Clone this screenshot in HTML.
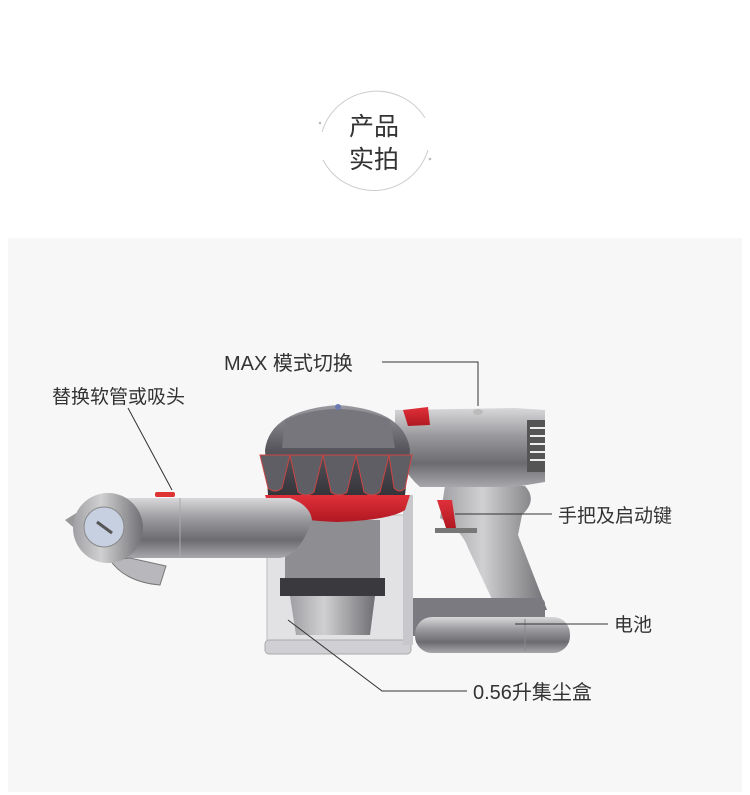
<!DOCTYPE html>
<html><head><meta charset="utf-8"><style>
html,body{margin:0;padding:0;background:#fff;width:750px;height:795px;overflow:hidden}
svg{display:block}
text{font-family:"Liberation Sans","Noto Sans CJK SC",sans-serif;fill:#333}
</style></head><body>
<svg width="750" height="795" viewBox="0 0 750 795">
<defs>
<linearGradient id="met" x1="0" y1="0" x2="0" y2="1">
<stop offset="0" stop-color="#d8d8da"/><stop offset="0.35" stop-color="#9a9a9e"/><stop offset="0.7" stop-color="#6c6c70"/><stop offset="1" stop-color="#a8a8ac"/></linearGradient>
<linearGradient id="metH" x1="0" y1="0" x2="1" y2="0">
<stop offset="0" stop-color="#a0a0a4"/><stop offset="0.4" stop-color="#d0d0d2"/><stop offset="1" stop-color="#707074"/></linearGradient>
<linearGradient id="dark" x1="0" y1="0" x2="0" y2="1">
<stop offset="0" stop-color="#9a9aa0"/><stop offset="0.5" stop-color="#55555b"/><stop offset="1" stop-color="#34343a"/></linearGradient>
<linearGradient id="red" x1="0" y1="0" x2="0" y2="1">
<stop offset="0" stop-color="#e0303a"/><stop offset="1" stop-color="#b01822"/></linearGradient>
</defs>
<rect x="0" y="0" width="750" height="795" fill="#fff"/>
<rect x="8" y="238" width="734" height="554" fill="#f7f7f7"/>
<!-- title circle -->
<path d="M322 132 A57 57 0 0 1 425 118" fill="none" stroke="#ccc" stroke-width="1"/>
<path d="M428 150 A57 57 0 0 1 323 160" fill="none" stroke="#ccc" stroke-width="1"/>
<circle cx="320" cy="123" r="1.3" fill="#bbb"/>
<circle cx="430" cy="159" r="1.3" fill="#bbb"/>
<text x="374" y="135" font-size="25" text-anchor="middle">产品</text>
<text x="374" y="168" font-size="25" text-anchor="middle">实拍</text>

<!-- handle -->
<path d="M445 486 L525 486 Q538 500 522 515 L518 535 L547 610 L497 610 L468 548 Q462 530 440 518 Z" fill="url(#metH)"/>
<rect x="435" y="528" width="42" height="5" fill="#777"/>
<path d="M437 500 L452 500 L456 528 L446 528 Z" fill="url(#red)"/>
<!-- battery -->
<rect x="405" y="598" width="140" height="38" rx="6" fill="#7a7a80"/>
<rect x="415" y="617" width="155" height="36" rx="17" fill="url(#met)"/>
<line x1="525" y1="619" x2="525" y2="651" stroke="#888"/>
<!-- motor body -->
<path d="M395 410 L515 408 L545 410 L545 482 L515 487 L420 487 Q400 470 395 440 Z" fill="url(#met)"/>
<rect x="527" y="420" width="18" height="52" fill="#555"/>
<g stroke="#eee" stroke-width="2"><line x1="530" y1="428" x2="545" y2="428"/><line x1="530" y1="436" x2="545" y2="436"/><line x1="530" y1="444" x2="545" y2="444"/><line x1="530" y1="452" x2="545" y2="452"/><line x1="530" y1="460" x2="545" y2="460"/></g>
<ellipse cx="478" cy="412" rx="5" ry="3" fill="#bbb"/>
<path d="M403 410 L428 407 L430 425 L408 426 Z" fill="url(#red)"/>
<!-- dust bin -->
<rect x="267" y="515" width="143" height="135" fill="#e2e2e4" stroke="#bbb"/>
<rect x="285" y="520" width="95" height="65" fill="#8e8e92"/>
<rect x="280" y="578" width="105" height="18" fill="#3a3a3e"/>
<path d="M290 596 L375 596 L370 635 L296 635 Z" fill="url(#metH)"/>
<rect x="265" y="640" width="146" height="14" rx="4" fill="#d0d0d4" stroke="#aaa"/>
<rect x="403" y="495" width="10" height="150" fill="#c8c8cc"/>
<!-- red collar -->
<path d="M265 495 L410 495 L405 510 Q390 520 338 522 Q285 520 270 510 Z" fill="url(#red)"/>
<!-- cyclones -->
<path d="M265 450 Q270 410 338 405 Q405 410 410 450 L405 495 L268 495 Z" fill="url(#dark)"/>
<g fill="#5e5e64" stroke="#c44" stroke-width="1">
<path d="M260 455 L290 455 L282 488 Q275 494 268 488 Z"/>
<path d="M290 455 L323 455 L314 492 Q306 498 298 492 Z"/>
<path d="M323 455 L356 455 L347 492 Q339 498 331 492 Z"/>
<path d="M356 455 L389 455 L380 492 Q372 498 364 492 Z"/>
<path d="M389 455 L412 455 L405 488 Q400 494 394 488 Z"/>
</g>
<path d="M285 420 Q338 398 390 420 L395 448 L282 448 Z" fill="#76767c"/>
<circle cx="338" cy="407" r="3" fill="#6a7ab0"/>
<!-- wand -->
<path d="M120 498 L290 498 Q310 505 312 520 Q300 555 280 558 L120 558 Z" fill="url(#met)"/>
<line x1="180" y1="498" x2="180" y2="558" stroke="#aaa"/>
<rect x="155" y="492" width="20" height="5" rx="2" fill="#d33"/>
<path d="M65 520 L78 512 L82 535 Z" fill="#999"/>
<path d="M110 560 Q125 582 160 585 L166 566 L130 558 Z" fill="#b8b8bc" stroke="#777"/>
<circle cx="108" cy="528" r="35" fill="url(#metH)"/>
<circle cx="104" cy="527" r="20" fill="#c6d0e0" stroke="#888"/>
<line x1="97" y1="522" x2="112" y2="533" stroke="#555" stroke-width="3"/>

<!-- callouts -->
<g stroke="#333" stroke-width="1" fill="none">
<polyline points="382,362 478,362 478,406"/>
<line x1="128" y1="408" x2="172" y2="490"/>
<line x1="455" y1="514" x2="552" y2="514"/>
<line x1="515" y1="624" x2="608" y2="624"/>
<polyline points="288,620 382,691 467,691"/>
</g>
<text x="224" y="370" font-size="20">MAX 模式切换</text>
<text x="52" y="403" font-size="19">替换软管或吸头</text>
<text x="558" y="522" font-size="19">手把及启动键</text>
<text x="614" y="631" font-size="19">电池</text>
<text x="473" y="699" font-size="20">0.56升集尘盒</text>
</svg>
</body></html>
